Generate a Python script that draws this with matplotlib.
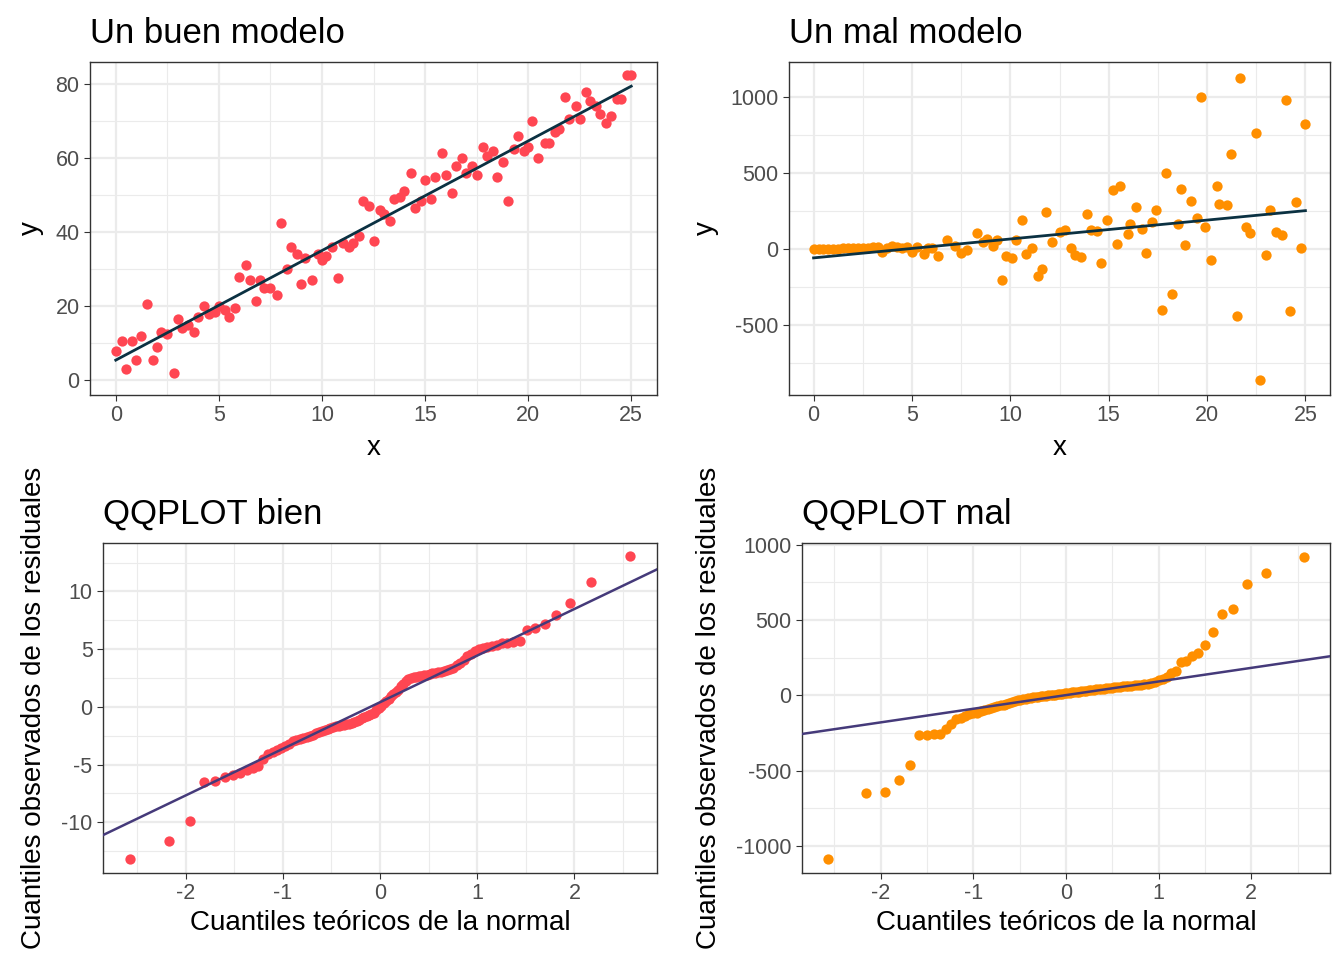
import numpy as np
import matplotlib
matplotlib.use("Agg")
import matplotlib.pyplot as plt
from statistics import NormalDist

plt.rcParams['font.family'] = ['Liberation Sans', 'DejaVu Sans']
plt.rcParams['axes.unicode_minus'] = False

# Good model
good_x = [0,0.3,0.5,0.8,1,1.2,1.5,1.8,2,2.2,2.5,2.8,3,3.2,3.5,3.8,4,4.3,4.5,4.8,5,5.3,5.5,5.8,6,6.3,6.5,6.8,7,7.2,7.5,7.8,8,8.3,8.5,8.8,9,9.2,9.5,9.8,10,10.2,10.5,10.8,11,11.3,11.5,11.8,12,12.3,12.5,12.8,13,13.3,13.5,13.8,14,14.3,14.5,14.8,15,15.3,15.5,15.8,16,16.3,16.5,16.8,17,17.3,17.5,17.8,18,18.3,18.5,18.8,19,19.3,19.5,19.8,20,20.2,20.5,20.8,21,21.3,21.5,21.8,22,22.3,22.5,22.8,23,23.3,23.5,23.8,24,24.3,24.5,24.8,25]
good_y = [8,10.5,3,10.5,5.5,12,20.5,5.5,9,13,12.5,2,16.5,14,15,13,17,20,18,18.5,20,19,17,19.5,28,31,27,21.5,27,25,25,23,42.5,30,36,34,26,33,27,34,32.5,33.5,36,27.5,37,36,37,39,48.5,47,37.5,46,45,43,49,49.5,51,56,46.5,48.5,54,49,55,61.5,55.5,50.5,58,60,56,58,55.5,63,60.5,62,55,59,48.5,62.5,66,62,63,70,60,64,64,67,68,76.5,70.5,74,70.5,78,75.5,74,72,69.5,71.5,76,76,82.5,82.5]

# Bad model
bad_x = [0,0.25,0.5,0.75,1,1.25,1.5,1.75,2,2.25,2.5,2.75,3,3.25,3.5,3.75,4,4.25,4.5,4.75,5,5.25,5.6,5.8,6,6.3,6.8,7.2,7.5,7.8,8.3,8.6,8.8,9.1,9.3,9.6,9.8,10.1,10.3,10.6,10.8,11.1,11.4,11.6,11.8,12.1,12.5,12.8,13.1,13.3,13.6,13.9,14.1,14.4,14.6,14.9,15.2,15.4,15.6,16,16.1,16.4,16.7,16.9,17.2,17.4,17.7,17.9,18.2,18.5,18.7,18.9,19.2,19.5,19.7,19.9,20.2,20.5,20.6,21,21.2,21.5,21.7,22,22.2,22.5,22.7,23,23.2,23.5,23.8,24,24.2,24.5,24.8,25]
bad_y = [0,1,2,1,3,2,5,4,6,8,10,5,12,14,-18,10,18,14,5,12,-22,15,-33,8,10,-46,61,20,-26,-5,105,44,66,20,61,-201,-48,-59,61,193,-33,7,-177,-134,241,48,112,127,7,-39,-55,230,125,120,-92,190,390,35,414,99,164,274,129,-26,180,256,-403,497,-296,164,394,26,313,204,1003,142,-70,416,296,289,624,-438,1128,142,105,760,-861,-37,258,110,94,981,-407,311,4,821]

# QQ residuals (sorted)
qq_good = [-13.2,-11.6,-9.9,-6.5,-6.4,-6.1,-5.9,-5.7,-5.5,-5.3,-5.1,-4.5,-4.1,-3.9,-3.7,-3.6,-3.4,-3.2,-3.0,-2.9,-2.8,-2.7,-2.6,-2.5,-2.4,-2.3,-2.2,-2.1,-2.0,-1.9,-1.8,-1.75,-1.7,-1.65,-1.6,-1.55,-1.5,-1.45,-1.4,-1.3,-1.2,-1.1,-1.0,-0.9,-0.8,-0.7,-0.6,-0.5,-0.3,-0.1,0.1,0.3,0.5,0.7,0.9,1.1,1.3,1.5,1.8,2.0,2.2,2.4,2.5,2.55,2.6,2.65,2.7,2.75,2.8,2.85,2.9,2.95,3.0,3.05,3.1,3.2,3.3,3.4,3.6,3.8,4.1,4.4,4.6,4.8,5.0,5.1,5.2,5.3,5.4,5.5,5.55,5.6,5.7,6.7,6.8,7.2,8.0,9.0,10.8,13.1]
qq_bad = [-1090,-650,-645,-565,-465,-265,-262,-260,-255,-225,-190,-160,-150,-140,-125,-120,-115,-105,-98,-92,-86,-80,-74,-68,-62,-56,-50,-45,-40,-35,-31,-27,-24,-21,-18,-15,-12,-10,-8,-6,-4,-2,0,2,4,6,8,10,12,14,16,18,20,22,24,26,28,30,32,34,36,38,40,42,44,46,48,50,52,54,56,58,60,62,64,66,68,70,72,75,80,90,100,110,120,150,160,220,230,260,280,330,420,540,570,740,810,920]

RED = '#FF4652'
ORANGE = '#FF8F00'
LINE = '#0B3142'
QQLINE = '#453A7A'

fig = plt.figure(figsize=(13.44, 9.6), dpi=100)
W, H = 1344, 960
def ax_at(x0, y0, x1, y1):
    return fig.add_axes([x0/W, 1-y1/H, (x1-x0)/W, (y1-y0)/H])

def style(ax):
    ax.set_facecolor('white')
    ax.grid(True, which='major', color='#EBEBEB', lw=1.6, zorder=0)
    ax.grid(True, which='minor', color='#EBEBEB', lw=0.8, zorder=0)
    ax.set_axisbelow(True)
    for s in ax.spines.values():
        s.set_color('#333333'); s.set_linewidth(1.0)
    ax.tick_params(which='major', colors='#333333', labelcolor='#4D4D4D', labelsize=15.5, length=4)
    ax.tick_params(which='minor', length=0)

def title(ax, t):
    ax.set_title(t, loc='left', fontsize=25, pad=14)

axes = [ax_at(90, 62, 657, 395), ax_at(789, 62, 1330, 395),
        ax_at(103, 543, 657, 873), ax_at(802, 543, 1330, 873)]

# TL
ax = axes[0]
ax.scatter(good_x, good_y, s=55, color=RED, zorder=3, lw=0)
b, a = np.polyfit(good_x, good_y, 1)
xx = np.array([0, 25])
ax.plot(xx, a + b*xx, color=LINE, lw=2, zorder=4)
ax.set_xlim(-1.25, 26.25); ax.set_ylim(-4, 86)
ax.set_xticks([0,5,10,15,20,25]); ax.set_xticks(np.arange(2.5, 25, 5), minor=True)
ax.set_yticks([0,20,40,60,80]); ax.set_yticks([10,30,50,70], minor=True)
style(ax); title(ax, 'Un buen modelo')
ax.set_xlabel('x', fontsize=20, labelpad=6); ax.set_ylabel('y', fontsize=20, labelpad=8)

# TR
ax = axes[1]
ax.scatter(bad_x, bad_y, s=55, color=ORANGE, zorder=3, lw=0)
b, a = np.polyfit(bad_x, bad_y, 1)
ax.plot(xx, a + b*xx, color=LINE, lw=2, zorder=4)
ax.set_xlim(-1.25, 26.25); ax.set_ylim(-960, 1230)
ax.set_xticks([0,5,10,15,20,25]); ax.set_xticks(np.arange(2.5, 25, 5), minor=True)
ax.set_yticks([-500,0,500,1000]); ax.set_yticks([-750,-250,250,750], minor=True)
style(ax); title(ax, 'Un mal modelo')
ax.set_xlabel('x', fontsize=20, labelpad=6); ax.set_ylabel('y', fontsize=20, labelpad=8)

def qq(ax, data, color, ylim, yt, ymt, t):
    n = len(data)
    nd = NormalDist()
    q = np.array([nd.inv_cdf((i - 0.5) / n) for i in range(1, n+1)])
    d = np.sort(np.array(data, float))
    ax.scatter(q, d, s=55, color=color, zorder=3, lw=0)
    y1, y3 = np.quantile(d, [0.25, 0.75])
    x1, x3 = nd.inv_cdf(0.25), nd.inv_cdf(0.75)
    sl = (y3 - y1) / (x3 - x1); ic = y1 - sl * x1
    xl = np.array([-3, 3])
    ax.plot(xl, ic + sl*xl, color=QQLINE, lw=1.8, zorder=4)
    ax.set_xlim(-2.85, 2.85); ax.set_ylim(*ylim)
    ax.set_xticks([-2,-1,0,1,2]); ax.set_xticks([-1.5,-0.5,0.5,1.5,2.5,-2.5], minor=True)
    ax.set_yticks(yt); ax.set_yticks(ymt, minor=True)
    style(ax); title(ax, t)
    ax.set_xlabel('Cuantiles teóricos de la normal', fontsize=20, labelpad=4)
    ax.set_ylabel('Cuantiles observados de los residuales', fontsize=20, labelpad=10)

qq(axes[2], qq_good, RED, (-14.4, 14.2), [-10,-5,0,5,10], [-12.5,-7.5,-2.5,2.5,7.5,12.5], 'QQPLOT bien')
qq(axes[3], qq_bad, ORANGE, (-1180, 1010), [-1000,-500,0,500,1000], [-750,-250,250,750], 'QQPLOT mal')

fig.savefig('out.png', dpi=100, facecolor='white')
